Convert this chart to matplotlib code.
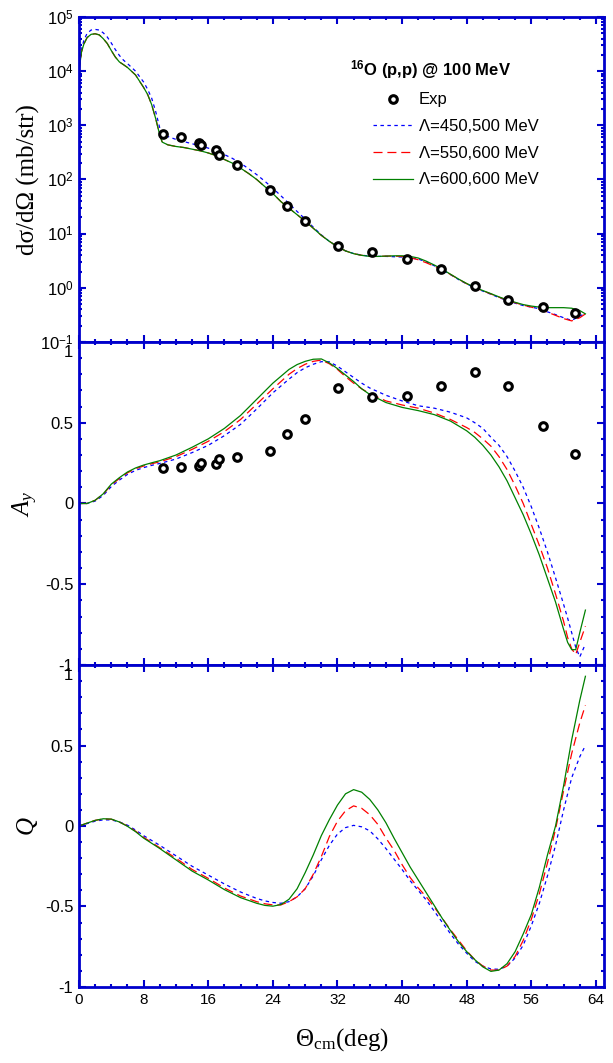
import matplotlib
matplotlib.use("Agg")
import matplotlib.pyplot as plt
from matplotlib.ticker import MultipleLocator, LogLocator, NullFormatter
from matplotlib.transforms import ScaledTranslation

# ---------------- DATA ---------------- #

# experimental angles (deg), shared by cross section and Ay
theta_exp = [10.4, 12.6, 14.8, 15.1, 16.9, 17.3, 19.5, 23.7, 25.8, 28.0,
             32.1, 36.3, 40.6, 44.8, 49.0, 53.1, 57.4, 61.4]
xsec_exp = [683, 610, 479, 428, 347, 288, 186, 63, 32.7, 16.9,
            5.93, 4.67, 3.47, 2.27, 1.06, 0.593, 0.447, 0.342]
ay_exp = [0.217, 0.223, 0.233, 0.248, 0.242, 0.273, 0.289, 0.326, 0.432, 0.523,
          0.713, 0.661, 0.667, 0.729, 0.816, 0.729, 0.481, 0.306]

# cross section curves (mb/str)
theta_xs = [0, 0.3, 0.6, 1, 1.5, 2, 2.5, 3, 3.5, 4, 4.5, 5, 5.5, 6, 7, 8, 8.5, 9, 9.5, 10, 10.3,
            11, 12, 13, 14, 15, 16, 17, 18, 19, 20, 21, 22, 23, 24, 25, 26, 27, 28, 29, 30,
            31, 32, 33, 34, 35, 36, 37, 38, 39, 40, 41, 42, 43, 44, 45, 46, 47, 48, 49, 50,
            51, 52, 53, 54, 55, 56, 57, 58, 59, 60, 61, 62, 62.7]
xs_450 = [1.0e4, 2.5e4, 3.7e4, 5.0e4, 5.75e4, 5.9e4, 5.75e4, 5.1e4, 4.27e4, 3.3e4, 2.5e4, 1.95e4, 1.6e4, 1.38e4,
          1.0e4, 6.3e3, 4.6e3, 3.16e3, 1.78e3, 890, 710,
          620, 550, 500, 457, 417, 380, 331, 288, 245, 200, 158, 123, 93, 69, 50, 36, 25.7, 18.6, 13.2, 9.5,
          7.2, 5.75, 4.8, 4.3, 4.0, 3.85, 3.8, 3.8, 3.75, 3.7, 3.55, 3.4, 3.0, 2.55, 2.15, 1.75, 1.42, 1.18, 1.0, 0.87,
          0.76, 0.66, 0.58, 0.52, 0.47, 0.44, 0.41, 0.36, 0.32, 0.28, 0.25, 0.30, 0.34]
xs_550 = [1.0e4, 2.24e4, 3.16e4, 4.17e4, 4.79e4, 4.9e4, 4.68e4, 3.98e4, 3.24e4, 2.4e4, 1.82e4, 1.48e4, 1.32e4, 1.17e4,
          8.5e3, 5.0e3, 3.7e3, 2.4e3, 1.32e3, 660, 490,
          436, 407, 389, 363, 339, 309, 275, 234, 200, 162, 129, 100, 74, 55, 39, 29.5, 22.4, 17.0, 12.6, 9.3,
          7.2, 5.75, 4.8, 4.27, 3.98, 3.8, 3.8, 3.85, 3.85, 3.8, 3.6, 3.3, 2.9, 2.5, 2.15, 1.76, 1.44, 1.19, 1.01, 0.88,
          0.77, 0.67, 0.59, 0.53, 0.48, 0.44, 0.40, 0.355, 0.31, 0.27, 0.245, 0.28, 0.33]
xs_600 = [1.0e4, 2.24e4, 3.16e4, 4.17e4, 4.79e4, 4.9e4, 4.68e4, 3.98e4, 3.24e4, 2.4e4, 1.82e4, 1.48e4, 1.32e4, 1.17e4,
          8.5e3, 5.0e3, 3.7e3, 2.4e3, 1.32e3, 660, 490,
          436, 407, 389, 363, 339, 309, 275, 234, 200, 162, 129, 100, 74, 55, 39, 29.5, 22.4, 17.0, 12.6, 9.3,
          7.2, 5.75, 4.8, 4.27, 3.98, 3.8, 3.8, 3.85, 3.9, 3.9, 3.8, 3.55, 3.1, 2.63, 2.19, 1.78, 1.45, 1.2, 1.02, 0.89,
          0.78, 0.68, 0.60, 0.54, 0.49, 0.46, 0.44, 0.43, 0.43, 0.43, 0.42, 0.38, 0.33]

# analyzing power curves
theta_ay = [0, 1, 2, 3, 4, 5, 6, 7, 8, 9, 10, 12, 14, 16, 18, 20, 22, 24, 26, 27, 28, 29, 30,
            31, 32, 33, 34, 35, 36, 38, 40, 42, 44, 46, 48, 49, 50, 51, 52, 53, 54, 55, 56,
            57, 58, 59, 60, 60.5, 61, 61.5, 62, 62.7]
ay_450 = [0, 0, 0.015, 0.05, 0.105, 0.145, 0.18, 0.205, 0.222, 0.236, 0.248, 0.275, 0.315, 0.36, 0.42,
          0.49, 0.585, 0.685, 0.77, 0.81, 0.84, 0.862, 0.878, 0.877, 0.85, 0.815, 0.78, 0.745, 0.715,
          0.67, 0.635, 0.605, 0.59, 0.565, 0.53, 0.50, 0.465, 0.41, 0.36, 0.29, 0.20, 0.10, -0.02,
          -0.155, -0.30, -0.46, -0.625, -0.71, -0.80, -0.89, -0.95, -0.87]
ay_550 = [0, 0, 0.02, 0.058, 0.115, 0.155, 0.19, 0.215, 0.232, 0.246, 0.258, 0.29, 0.335, 0.385, 0.445,
          0.52, 0.615, 0.71, 0.80, 0.835, 0.862, 0.88, 0.888, 0.865, 0.83, 0.785, 0.745, 0.71, 0.68,
          0.635, 0.61, 0.59, 0.56, 0.52, 0.47, 0.44, 0.40, 0.355, 0.29, 0.21, 0.11, 0.0, -0.13,
          -0.26, -0.40, -0.56, -0.73, -0.83, -0.90, -0.935, -0.86, -0.76]
ay_600 = [0, 0, 0.02, 0.06, 0.12, 0.16, 0.195, 0.22, 0.238, 0.252, 0.265, 0.30, 0.348, 0.40, 0.465,
          0.545, 0.645, 0.745, 0.83, 0.86, 0.88, 0.893, 0.895, 0.87, 0.835, 0.795, 0.755, 0.71, 0.675,
          0.625, 0.595, 0.575, 0.55, 0.51, 0.45, 0.41, 0.36, 0.30, 0.227, 0.14, 0.035, -0.07, -0.19,
          -0.32, -0.465, -0.61, -0.78, -0.86, -0.905, -0.905, -0.80, -0.66]

# spin rotation Q curves
theta_q = [0, 1, 2, 3, 4, 5, 6, 7, 8, 10, 12, 14, 16, 18, 20, 22, 23, 24, 25, 26, 27, 28, 29, 30,
           31, 32, 33, 34, 35, 36, 37, 38, 39, 40, 41, 42, 43, 44, 45, 46, 47, 48, 49, 50,
           51, 52, 53, 54, 55, 56, 57, 58, 59, 60, 61, 62, 62.7]
q_450 = [0, 0.015, 0.03, 0.038, 0.038, 0.025, 0.005, -0.025, -0.06, -0.12, -0.185, -0.25, -0.305, -0.36,
         -0.41, -0.45, -0.465, -0.475, -0.48, -0.47, -0.44, -0.39, -0.31, -0.21, -0.12, -0.05, -0.01,
         0.004, -0.005, -0.03, -0.08, -0.14, -0.205, -0.27, -0.34, -0.40, -0.46, -0.53, -0.60, -0.67,
         -0.735, -0.79, -0.84, -0.87, -0.888, -0.89, -0.87, -0.82, -0.74, -0.62, -0.48, -0.31, -0.12,
         0.10, 0.30, 0.43, 0.50]
q_550 = [0, 0.018, 0.035, 0.044, 0.042, 0.025, 0.0, -0.032, -0.07, -0.135, -0.2, -0.27, -0.325, -0.385,
         -0.435, -0.47, -0.483, -0.49, -0.49, -0.47, -0.44, -0.39, -0.30, -0.19, -0.065, 0.03, 0.095,
         0.125, 0.11, 0.07, 0.01, -0.075, -0.15, -0.24, -0.32, -0.385, -0.44, -0.505, -0.575, -0.645,
         -0.71, -0.775, -0.83, -0.87, -0.895, -0.895, -0.87, -0.81, -0.71, -0.58, -0.42, -0.23, -0.02,
         0.22, 0.45, 0.64, 0.75]
q_600 = [0, 0.018, 0.035, 0.045, 0.043, 0.025, -0.002, -0.035, -0.075, -0.14, -0.21, -0.28, -0.335, -0.395,
         -0.445, -0.48, -0.493, -0.498, -0.488, -0.455, -0.39, -0.29, -0.18, -0.06, 0.04, 0.13, 0.2,
         0.226, 0.21, 0.165, 0.1, 0.02, -0.075, -0.165, -0.255, -0.335, -0.415, -0.495, -0.576, -0.65,
         -0.72, -0.78, -0.83, -0.875, -0.903, -0.895, -0.855, -0.78, -0.67, -0.55, -0.38, -0.18, 0.0,
         0.25, 0.535, 0.78, 0.93]

labels = ["\u039b=450,500 MeV", "\u039b=550,600 MeV", "\u039b=600,600 MeV"]

# ---------------- STYLE ---------------- #

AXIS_BLUE = "#0000CC"
plt.rcParams["font.family"] = ["Liberation Sans", "DejaVu Sans"]
plt.rcParams["mathtext.fontset"] = "custom"
plt.rcParams["mathtext.rm"] = "Liberation Serif"
plt.rcParams["mathtext.it"] = "Liberation Serif:italic"
plt.rcParams["mathtext.bf"] = "Liberation Sans:bold"
plt.rcParams["mathtext.sf"] = "Liberation Sans"
plt.rcParams["lines.scale_dashes"] = False

line_styles = [
    dict(color="#0000FF", lw=0.9, ls=(0, (2.5, 2.5))),
    dict(color="#FF0000", lw=0.9, ls=(0, (6.5, 3.5))),
    dict(color="#008000", lw=0.9, ls="-"),
]
exp_style = dict(ls="none", marker="o", ms=5.5, mfc="white", mec="black", mew=2.2, zorder=5)


def style_axis(ax):
    for s in ax.spines.values():
        s.set_color(AXIS_BLUE)
        s.set_linewidth(2)
    ax.tick_params(which="both", direction="in", top=True, right=True,
                   color=AXIS_BLUE, width=1.5)
    ax.tick_params(which="major", length=5, labelsize=12, pad=4)
    ax.tick_params(which="minor", length=2.5)
    ax.set_xlim(0, 65)
    ax.xaxis.set_major_locator(MultipleLocator(8))
    ax.xaxis.set_minor_locator(MultipleLocator(2))


def linear_y(ax, fig):
    ax.set_ylim(-1, 1)
    ax.set_yticks([-1, -0.5, 0, 0.5, 1])
    ax.set_yticklabels(["-1", "-0.5", "0", "0.5", "1"])
    ax.yaxis.set_minor_locator(MultipleLocator(0.1))
    # the top "1" sits a little below its tick, as in the original
    top = ax.get_yticklabels()[-1]
    top.set_transform(top.get_transform() + ScaledTranslation(0, -0.09, fig.dpi_scale_trans))


# ---------------- PLOT ---------------- #

fig = plt.figure(figsize=(6.13, 10.63), dpi=100)
ax1 = fig.add_axes([0.1289, 0.6783, 0.8564, 0.3057])
ax2 = fig.add_axes([0.1289, 0.3744, 0.8564, 0.3039])
ax3 = fig.add_axes([0.1289, 0.0715, 0.8564, 0.3029])

# cross section
handles = []
for ys, st, lab in zip([xs_450, xs_550, xs_600], line_styles, labels):
    h, = ax1.plot(theta_xs, ys, label=lab, **st)
    handles.append(h)
hexp, = ax1.plot(theta_exp, xsec_exp, label="Exp", **exp_style)
style_axis(ax1)
ax1.set_yscale("log")
ax1.set_ylim(0.1, 1e5)
ax1.set_yticks([1e-1, 1, 10, 1e2, 1e3, 1e4, 1e5])
ax1.set_yticklabels(["10$^{\\mathsf{-1}}$", "10$^{\\mathsf{0}}$", "10$^{\\mathsf{1}}$",
                     "10$^{\\mathsf{2}}$", "10$^{\\mathsf{3}}$", "10$^{\\mathsf{4}}$",
                     "10$^{\\mathsf{5}}$"])
ax1.yaxis.set_minor_locator(LogLocator(base=10, subs=range(2, 10), numticks=20))
ax1.yaxis.set_minor_formatter(NullFormatter())
ax1.tick_params(axis="x", labelbottom=False)
ax1.set_ylabel("d\u03c3/d\u03a9 (mb/str)", fontsize=18, family="Liberation Serif")
ax1.yaxis.set_label_coords(-0.075, 0.5)

ax1.text(0.67, 0.837, "$\\mathbf{^{16}}$O (p,p) @ 100 MeV", transform=ax1.transAxes,
         ha="center", va="center", fontsize=12, fontweight="bold")
ax1.legend([hexp] + handles, ["Exp"] + labels, loc="upper left",
           bbox_to_anchor=(0.56, 0.768), frameon=False, fontsize=12,
           handlelength=2.4, handletextpad=0.35, labelspacing=0.7,
           borderpad=0, borderaxespad=0)

# analyzing power
for ys, st in zip([ay_450, ay_550, ay_600], line_styles):
    ax2.plot(theta_ay, ys, **st)
ax2.plot(theta_exp, ay_exp, **exp_style)
style_axis(ax2)
linear_y(ax2, fig)
ax2.tick_params(axis="x", labelbottom=False)
ax2.set_ylabel("$A_y$", fontsize=18)
ax2.yaxis.set_label_coords(-0.074, 0.5)

# spin rotation
for ys, st in zip([q_450, q_550, q_600], line_styles):
    ax3.plot(theta_q, ys, **st)
style_axis(ax3)
linear_y(ax3, fig)
ax3.tick_params(axis="x", labelsize=11)
ax3.set_ylabel("$Q$", fontsize=18)
ax3.yaxis.set_label_coords(-0.074, 0.5)
ax3.set_xlabel("$\\Theta_{\\rm cm}$(deg)", fontsize=18, family="Liberation Serif", labelpad=14)

fig.savefig("out.png", dpi=100)
